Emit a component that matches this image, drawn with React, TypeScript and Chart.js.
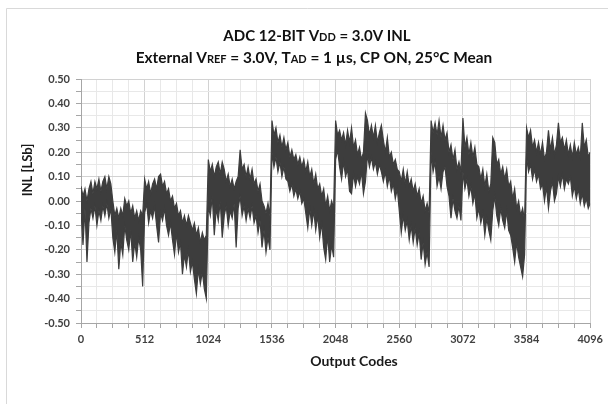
import React, { useEffect, useRef } from 'react';
import { Chart, registerables } from 'chart.js';

Chart.register(...registerables);

// The trace has 4096 codes (about 8 per pixel), so it is read off the picture as the
// highest and lowest INL value in each 16-code window, per 512-code block.
const CODE_STEP = 16;
const BLOCK_SIZE = 512;

const inlMaxBlock0 = [0.06, 0.02, 0.05, 0.0, 0.05, 0.08, 0.03, 0.08, 0.05, 0.09, 0.04, 0.08, 0.1, 0.05, 0.1, 0.07, 0.0, -0.06, -0.03, -0.07, -0.03, -0.06, 0.01, -0.02, 0.0, -0.05, -0.02, -0.07, -0.04, -0.08, -0.04, -0.06];
const inlMinBlock0 = [-0.04, -0.18, -0.03, -0.25, -0.09, -0.03, -0.07, -0.02, -0.1, -0.04, -0.08, -0.02, -0.06, -0.01, -0.07, -0.03, -0.15, -0.21, -0.12, -0.28, -0.17, -0.22, -0.1, -0.16, -0.2, -0.12, -0.25, -0.17, -0.23, -0.15, -0.2, -0.35];

const inlMaxBlock1 = [0.09, 0.05, 0.08, 0.03, 0.07, 0.09, 0.05, 0.1, 0.11, 0.06, 0.08, 0.03, 0.05, 0.0, 0.02, -0.03, -0.01, -0.06, -0.04, -0.09, -0.06, -0.1, -0.06, -0.09, -0.12, -0.09, -0.14, -0.11, -0.17, -0.13, -0.16, -0.14];
const inlMinBlock1 = [-0.05, -0.01, -0.09, -0.04, -0.07, -0.02, -0.1, -0.17, -0.05, -0.08, -0.03, -0.1, -0.14, -0.09, -0.16, -0.22, -0.13, -0.21, -0.17, -0.3, -0.22, -0.27, -0.2, -0.29, -0.25, -0.32, -0.38, -0.28, -0.34, -0.29, -0.36, -0.4];

const inlMaxBlock2 = [0.17, 0.12, 0.15, 0.1, 0.14, 0.16, 0.11, 0.16, 0.13, 0.08, 0.11, 0.06, 0.09, 0.05, 0.08, 0.1, 0.21, 0.13, 0.15, 0.1, 0.14, 0.09, 0.13, 0.07, 0.09, 0.04, 0.07, 0.0, -0.02, -0.05, -0.01, -0.06];
const inlMinBlock2 = [-0.02, -0.06, 0.02, -0.14, -0.03, -0.08, 0.0, -0.15, -0.06, -0.02, -0.1, -0.04, -0.07, -0.01, -0.19, -0.03, 0.02, -0.06, -0.02, -0.08, -0.03, -0.07, -0.02, -0.09, -0.06, -0.13, -0.08, -0.19, -0.12, -0.21, -0.15, -0.2];

const inlMaxBlock3 = [0.33, 0.27, 0.3, 0.24, 0.27, 0.22, 0.26, 0.21, 0.24, 0.18, 0.21, 0.17, 0.19, 0.15, 0.18, 0.14, 0.17, 0.12, 0.16, 0.1, 0.13, 0.07, 0.11, 0.05, 0.07, 0.02, 0.05, -0.02, 0.02, -0.04, 0.0, -0.03];
const inlMinBlock3 = [0.2, 0.14, 0.18, 0.12, 0.16, 0.1, 0.14, 0.09, 0.08, 0.04, 0.07, 0.02, 0.05, 0.01, 0.04, -0.01, 0.01, -0.05, -0.11, -0.03, -0.1, -0.04, -0.12, -0.06, -0.15, -0.09, -0.19, -0.24, -0.14, -0.25, -0.18, -0.23];

const inlMaxBlock4 = [0.33, 0.27, 0.29, 0.25, 0.28, 0.23, 0.29, 0.24, 0.3, 0.22, 0.25, 0.19, 0.22, 0.17, 0.2, 0.36, 0.33, 0.27, 0.31, 0.26, 0.31, 0.24, 0.28, 0.31, 0.25, 0.2, 0.26, 0.18, 0.2, 0.15, 0.17, 0.13];
const inlMinBlock4 = [0.17, 0.21, 0.14, 0.09, 0.16, 0.1, 0.13, 0.04, 0.03, 0.11, 0.06, 0.1, 0.07, 0.12, 0.03, 0.08, 0.19, 0.14, 0.18, 0.13, 0.16, 0.11, 0.15, 0.12, 0.08, 0.12, 0.06, 0.1, 0.04, 0.07, 0.01, 0.05];

const inlMaxBlock5 = [0.12, 0.08, 0.13, 0.07, 0.12, 0.06, 0.09, 0.04, 0.07, 0.02, 0.05, -0.01, 0.02, -0.04, -0.01, -0.05, 0.33, 0.28, 0.32, 0.27, 0.33, 0.26, 0.31, 0.25, 0.28, 0.2, 0.23, 0.17, 0.21, 0.13, 0.16, 0.12];
const inlMinBlock5 = [-0.04, -0.13, -0.06, -0.12, -0.08, -0.16, -0.1, -0.17, -0.11, -0.18, -0.13, -0.24, -0.17, -0.26, -0.21, -0.27, 0.2, 0.12, 0.16, 0.06, 0.1, 0.05, 0.12, 0.14, 0.06, 0.02, -0.07, 0.01, -0.04, -0.07, -0.02, -0.08];

const inlMaxBlock6 = [0.34, 0.22, 0.26, 0.19, 0.24, 0.18, 0.22, 0.15, 0.14, 0.09, 0.13, 0.06, 0.11, 0.04, 0.07, 0.26, 0.24, 0.15, 0.17, 0.11, 0.14, 0.09, 0.13, 0.06, 0.08, 0.01, 0.05, -0.03, 0.0, -0.06, -0.03, -0.08];
const inlMinBlock6 = [0.12, 0.05, 0.09, 0.02, 0.06, -0.01, 0.03, -0.07, -0.03, -0.09, -0.05, -0.14, -0.07, -0.12, -0.16, -0.04, 0.02, -0.06, -0.1, -0.03, -0.08, -0.11, -0.04, -0.12, -0.14, -0.19, -0.25, -0.17, -0.23, -0.27, -0.31, -0.22];

const inlMaxBlock7 = [0.3, 0.26, 0.29, 0.22, 0.25, 0.2, 0.24, 0.19, 0.24, 0.17, 0.2, 0.29, 0.21, 0.26, 0.19, 0.23, 0.32, 0.24, 0.26, 0.21, 0.25, 0.19, 0.23, 0.18, 0.24, 0.19, 0.22, 0.18, 0.32, 0.22, 0.25, 0.18];
const inlMinBlock7 = [0.18, 0.12, 0.15, 0.09, 0.13, 0.08, 0.11, 0.05, 0.07, 0.0, 0.06, -0.03, 0.04, 0.08, 0.0, 0.03, 0.1, 0.06, 0.11, 0.05, 0.09, 0.07, 0.1, 0.02, 0.06, 0.01, 0.05, -0.01, 0.03, -0.02, 0.01, -0.03];

const inlLastCode = 4095;
const inlLastMax = 0.2;
const inlLastMin = -0.01;

const xTickLabels = [0, 512, 1024, 1536, 2048, 2560, 3072, 3584, 4096];
const yTickLabels = [-0.5, -0.4, -0.3, -0.2, -0.1, 0, 0.1, 0.2, 0.3, 0.4, 0.5];

const titleLine1: [string, boolean][] = [
  ['ADC 12-BIT V', false],
  ['DD', true],
  [' = 3.0V INL', false],
];
const titleLine2: [string, boolean][] = [
  ['External V', false],
  ['REF', true],
  [' = 3.0V, T', false],
  ['AD', true],
  [' = 1 µs, CP ON, 25°C Mean', false],
];
const yTitle = 'INL [LSb]';
const xTitle = 'Output Codes';

const FONT = 'Lato, "Open Sans", sans-serif';
const TRACE = '#3d3d3d';

function drawRich(ctx: CanvasRenderingContext2D, parts: [string, boolean][], cx: number, baseline: number, size: number) {
  const big = `bold ${size}px ${FONT}`;
  const small = `bold ${Math.round(size * 0.74)}px ${FONT}`;
  let total = 0;
  for (const [t, s] of parts) {
    ctx.font = s ? small : big;
    total += ctx.measureText(t).width;
  }
  let x = cx - total / 2;
  ctx.textAlign = 'left';
  ctx.textBaseline = 'alphabetic';
  for (const [t, s] of parts) {
    ctx.font = s ? small : big;
    ctx.fillText(t, x, baseline);
    x += ctx.measureText(t).width;
  }
}

const decorPlugin = {
  id: 'decor',
  beforeDraw(chart: any) {
    const ctx = chart.ctx as CanvasRenderingContext2D;
    ctx.save();
    ctx.fillStyle = '#ffffff';
    ctx.fillRect(0, 0, chart.width, chart.height);
    ctx.strokeStyle = '#d9d9d9';
    ctx.lineWidth = 1;
    ctx.beginPath();
    ctx.moveTo(6.5, chart.height);
    ctx.lineTo(6.5, 8.5);
    ctx.lineTo(chart.width, 8.5);
    ctx.stroke();
    ctx.restore();
  },
  afterDraw(chart: any) {
    const ctx = chart.ctx as CanvasRenderingContext2D;
    ctx.save();
    ctx.fillStyle = '#111111';
    drawRich(ctx, titleLine1, 317, 41, 15);
    drawRich(ctx, titleLine2, 314, 63, 15.4);
    ctx.fillStyle = '#1a1a1a';
    ctx.font = `bold 13px ${FONT}`;
    ctx.textAlign = 'center';
    ctx.textBaseline = 'middle';
    ctx.save();
    ctx.translate(28, 170);
    ctx.rotate(-Math.PI / 2);
    ctx.fillText(yTitle, 0, 0);
    ctx.restore();
    ctx.font = `bold 14px ${FONT}`;
    ctx.textBaseline = 'alphabetic';
    ctx.fillText(xTitle, 354, 366);
    ctx.restore();
  },
};

const isMajorX = (v: number) => xTickLabels.some((t) => Math.abs(t - v) < 1e-6);
const isMajorY = (v: number) => yTickLabels.some((t) => Math.abs(t - v) < 1e-6);

function toPoints(blocks: number[][], last: number) {
  const pts: { x: number; y: number }[] = [];
  blocks.forEach((blk, b) => blk.forEach((v, i) => pts.push({ x: b * BLOCK_SIZE + i * CODE_STEP, y: v })));
  pts.push({ x: inlLastCode, y: last });
  return pts;
}

export default function App() {
  const ref = useRef<HTMLCanvasElement | null>(null);

  useEffect(() => {
    document.body.style.margin = '0';
    const maxPts = toPoints(
      [inlMaxBlock0, inlMaxBlock1, inlMaxBlock2, inlMaxBlock3, inlMaxBlock4, inlMaxBlock5, inlMaxBlock6, inlMaxBlock7],
      inlLastMax,
    );
    const minPts = toPoints(
      [inlMinBlock0, inlMinBlock1, inlMinBlock2, inlMinBlock3, inlMinBlock4, inlMinBlock5, inlMinBlock6, inlMinBlock7],
      inlLastMin,
    );

    const chart = new Chart(ref.current as HTMLCanvasElement, {
      type: 'line',
      data: {
        datasets: [
          {
            label: 'INL max',
            data: maxPts,
            borderColor: TRACE,
            borderWidth: 1.2,
            pointRadius: 0,
            tension: 0,
            fill: false,
          },
          {
            label: 'INL min',
            data: minPts,
            borderColor: TRACE,
            backgroundColor: TRACE,
            borderWidth: 1.2,
            pointRadius: 0,
            tension: 0,
            fill: '-1',
          },
        ],
      },
      options: {
        animation: false,
        responsive: false,
        devicePixelRatio: 1,
        layout: { padding: { left: 0, top: 79, right: 17, bottom: 0 } },
        plugins: { legend: { display: false }, title: { display: false }, tooltip: { enabled: false } },
        scales: {
          x: {
            type: 'linear',
            min: 0,
            max: 4096,
            afterFit: (s: any) => {
              s.height = 81;
            },
            ticks: {
              stepSize: 128,
              autoSkip: false,
              maxRotation: 0,
              padding: 5,
              color: '#404040',
              font: { family: FONT, size: 11, weight: 'bold' },
              callback: (v: any) => (isMajorX(Number(v)) ? String(Math.round(Number(v))) : ''),
            },
            grid: {
              color: (c: any) => (isMajorX(c.tick?.value ?? 0) ? '#d2d2d2' : '#e8e8e8'),
              tickColor: '#a6a6a6',
              tickLength: 5,
            },
            border: { color: '#a6a6a6' },
          },
          y: {
            type: 'linear',
            min: -0.5,
            max: 0.5,
            afterFit: (s: any) => {
              s.width = 81;
            },
            ticks: {
              stepSize: 0.05,
              autoSkip: false,
              padding: 6,
              color: '#404040',
              font: { family: FONT, size: 11, weight: 'bold' },
              callback: (v: any) => {
                const n = Number(v);
                if (!isMajorY(n)) return '';
                return Math.abs(n) < 1e-9 ? '0.00' : n.toFixed(2);
              },
            },
            grid: {
              color: (c: any) => (isMajorY(c.tick?.value ?? 0) ? '#d2d2d2' : '#e8e8e8'),
              tickColor: '#a6a6a6',
              tickLength: 5,
            },
            border: { color: '#a6a6a6' },
          },
        },
      },
      plugins: [decorPlugin],
    } as any);

    return () => chart.destroy();
  }, []);

  return <canvas ref={ref} width={608} height={404} style={{ display: 'block' }} />;
}
